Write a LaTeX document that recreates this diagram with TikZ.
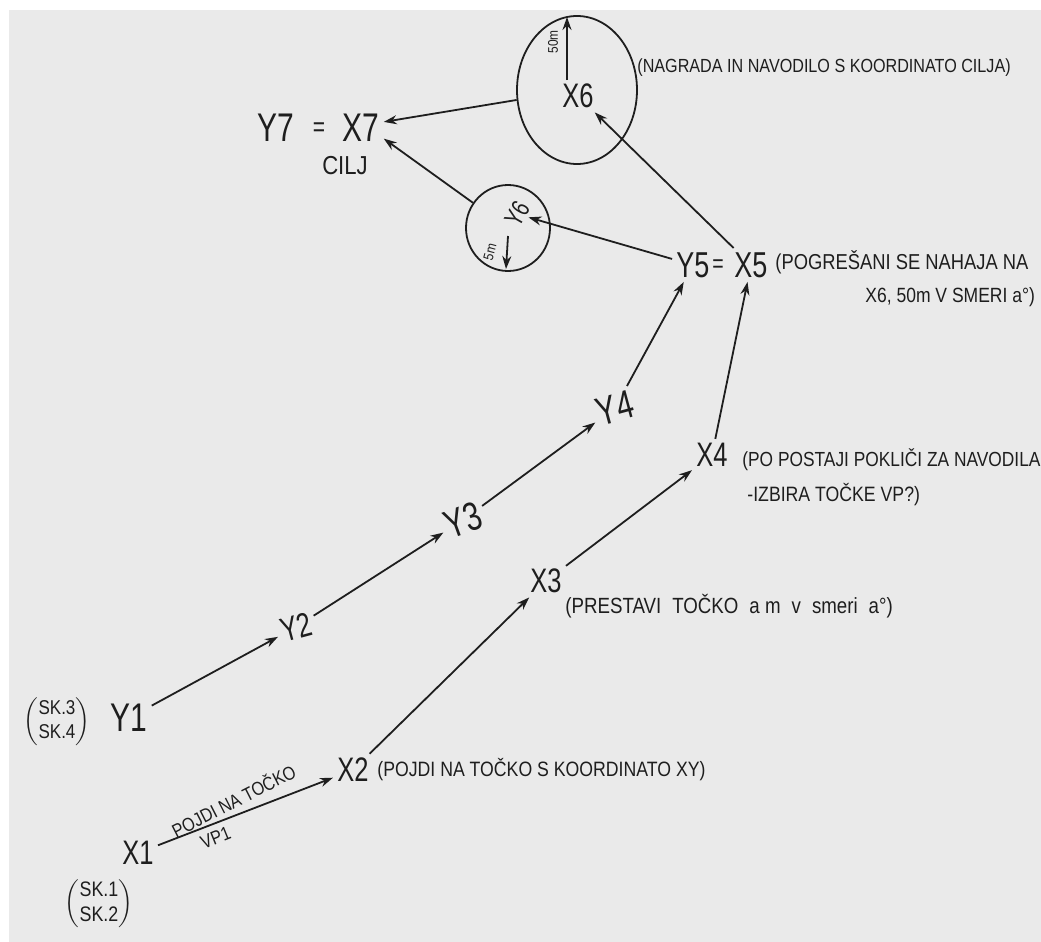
\documentclass[tikz,border=0pt]{standalone}
\usepackage{fontspec}
\setmainfont{Liberation Sans}
\newfontfamily\hand[FakeStretch=0.85]{Liberation Sans}
\newfontfamily\handn[FakeStretch=0.75]{Liberation Sans}
\usetikzlibrary{arrows.meta,shapes.geometric}
\definecolor{paper}{HTML}{EAEAEA}
\definecolor{ink}{HTML}{1E1E1E}
\newcommand{\wsp}{\hspace{5.5pt}}
\begin{document}
\begin{tikzpicture}[x=0.5pt,y=-0.5pt,
  big/.style={text=ink,font=\handn\fontsize{20}{22}\selectfont,inner sep=2pt},
  mid/.style={text=ink,font=\handn\fontsize{17}{19}\selectfont,inner sep=2pt},
  note/.style={text=ink,font=\hand\fontsize{9.5}{11}\selectfont,inner sep=0pt,anchor=west},
  tiny/.style={text=ink,font=\hand\fontsize{7}{8}\selectfont,inner sep=0pt},
  conn/.style={draw=ink,line width=0.9pt,-{Stealth[length=6.5pt,width=4.5pt]}},
  ring/.style={draw=ink,line width=0.9pt,ellipse,inner sep=0pt}]
\fill[white] (0,0) rectangle (1041,942);
\fill[paper] (9,10) rectangle (1041,942);
\useasboundingbox (0,0) rectangle (1041,942);

% goal
\node[big] (y7) at (276,128) {Y7};
\node[big,font=\handn\fontsize{14}{16}\selectfont] (eq7) at (319,130) {=};
\node[big] (x7) at (361,128) {X7};
\node[note,anchor=center,font=\hand\fontsize{13}{15}\selectfont] (cilj) at (345,166) {CILJ};

% big circle x6
\node[ring,minimum width=60pt,minimum height=74pt] (c6) at (577,90) {};
\node[mid] (x6) at (578,96) {X6};
\coordinate (m50s) at (567,80);
\coordinate (m50e) at (567,17);
\draw[conn] (m50s) -- (m50e);
\node[tiny,rotate=90] (l50) at (553,42) {50m};
\node[note] (n6) at (637,68) {(NAGRADA IN NAVODILO S KOORDINATO CILJA)};

% small circle y6
\node[ring,minimum width=42pt,minimum height=43pt] (c6s) at (508,228) {};
\node[mid,font=\handn\fontsize{13}{15}\selectfont,rotate=60,inner sep=1pt] (y6) at (517,214) {Y6};
\coordinate (m5s) at (508,236);
\coordinate (m5e) at (506,269);
\draw[conn] (m5s) -- (m5e);
\node[tiny,rotate=75] (l5) at (490,252) {5m};

% y5 = x5
\node[big,font=\handn\fontsize{18}{20}\selectfont] (y5) at (693,265) {Y5};
\node[big,font=\handn\fontsize{13}{15}\selectfont] (eq5) at (718,266) {=};
\node[big,font=\handn\fontsize{18}{20}\selectfont] (x5) at (751,265) {X5};
\node[note,font=\hand\fontsize{10.8}{12}\selectfont] (n5a) at (775,262) {(POGREŠANI SE NAHAJA NA};
\node[note,font=\hand\fontsize{10.3}{12}\selectfont] (n5b) at (865,297) {X6, 50m V SMERI a°)};

% level 4
\node[big,rotate=15] (y4) at (615,408) {Y4};
\node[mid] (x4) at (712,455) {X4};
\node[note,font=\hand\fontsize{10.2}{12}\selectfont] (n4a) at (742,460) {(PO POSTAJI POKLIČI ZA NAVODILA};
\node[note,font=\hand\fontsize{10.4}{12}\selectfont] (n4b) at (747,495) {-IZBIRA TOČKE VP?)};

% level 3
\node[big,rotate=20] (y3) at (463,520) {Y3};
\node[mid] (x3) at (546,581) {X3};
\node[note,font=\hand\fontsize{11}{13}\selectfont] (n3) at (565,606) {(PRESTAVI\wsp TOČKO\wsp a m\wsp v\wsp smeri\wsp a°)};

% level 2
\node[mid,rotate=15] (y2) at (296,627) {Y2};
\node[mid] (x2) at (353,770) {X2};
\node[note,font=\hand\fontsize{10.4}{12}\selectfont] (n2) at (377,770) {(POJDI NA TOČKO S KOORDINATO XY)};

% level 1
\node[big] (y1) at (129,718) {Y1};
\node[note,anchor=center,font=\hand\fontsize{10}{12}\selectfont] (sk34) at (57,722) {$\left(\begin{tabular}{@{}l@{}}SK.3\\SK.4\end{tabular}\right)$};
\node[mid] (x1) at (138,853) {X1};
\node[note,anchor=center,font=\hand\fontsize{10.5}{12.5}\selectfont] (sk12) at (99,904) {$\left(\begin{tabular}{@{}l@{}}SK.1\\SK.2\end{tabular}\right)$};

% connectors, y chain
\draw[conn] (y1) -- (y2);
\draw[conn] (y2) -- (y3);
\draw[conn] (y3) -- (y4);
\draw[conn] (y4) -- (y5);
\draw[conn] (y5) -- (y6);
% x chain
\draw[conn] (x1) -- node[note,anchor=south,rotate=27,pos=0.47,yshift=3pt] (e12a) {POJDI NA TOČKO}
                    node[note,anchor=north,rotate=22,pos=0.3,yshift=-3pt] (e12b) {VP1} (x2);
\draw[conn] (x2) -- (x3);
\draw[conn] (x3) -- (x4);
\draw[conn] (x4) -- (x5);
\draw[conn] (x5) -- (x6);
% to goal
\draw[conn] (c6) -- (x7.15);
\draw[conn] (c6s) -- (x7.-25);
\end{tikzpicture}
\end{document}
